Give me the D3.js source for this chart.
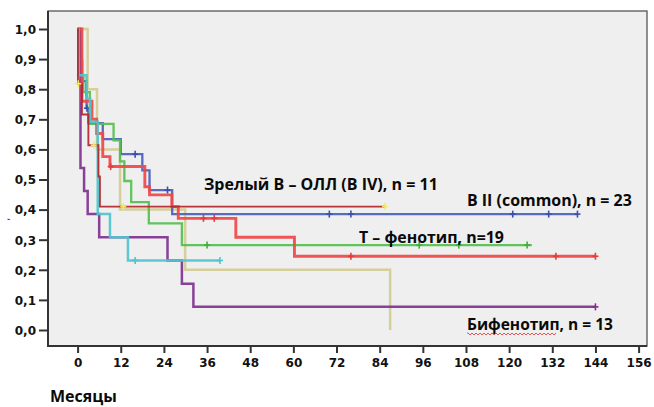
<!DOCTYPE html>
<html><head><meta charset="utf-8">
<script src="https://cdn.jsdelivr.net/npm/d3@7"></script>
<style>
html,body{margin:0;padding:0;background:#fff;}
svg{display:block;}
</style></head>
<body>
<script>
// ---- data ----
const xTicks = [0,12,24,36,48,60,72,84,96,108,120,132,144,156];
const yTicks = [0,0.1,0.2,0.3,0.4,0.5,0.6,0.7,0.8,0.9,1.0];

// Kaplan-Meier steps: event times (months) and survival after each step
const tanT  = [0, 2.8, 5.4, 11.8, 29.9, 86.9];
const tanS  = [1, 0.8, 0.6, 0.4, 0.2, 0.0];
const tanEnd = 86.9;
const tanCens = [];

const blueT = [0, 0.5, 0.8, 1.0, 1.1, 2.4, 2.5, 3.0, 7.0, 12.0, 18.0, 20.0, 26.3];
const blueS = [1, 0.957, 0.913, 0.870, 0.827, 0.780, 0.737, 0.687, 0.634, 0.584, 0.530, 0.465, 0.385];
const blueEnd = 139;
const blueCens = [1.2, 2.6, 16, 25, 70, 76, 121, 131, 139];

const greenT = [0, 0.5, 1.0, 1.3, 1.6, 3.4, 10.0, 11.8, 13.0, 14.9, 19.8, 29.0];
const greenS = [1, 0.947, 0.895, 0.842, 0.790, 0.685, 0.630, 0.560, 0.495, 0.425, 0.354, 0.282];
const greenEnd = 126.3;
const greenCens = [36, 95, 106, 125];

const purpleT = [0, 0.8, 1.8, 2.8, 6.0, 25.0, 29.0, 32.2];
const purpleS = [1, 0.538, 0.4615, 0.385, 0.308, 0.231, 0.154, 0.077];
const purpleEnd = 144;
const purpleCens = [144];

const redT = [0, 1.2, 4.0, 5.3, 7.0, 9.0, 18.7, 20.0, 26.2, 28.0, 44.0, 60.3];
const redS = [1, 0.760, 0.700, 0.653, 0.576, 0.543, 0.476, 0.449, 0.410, 0.371, 0.308, 0.245];
const redEnd = 144;
const redCens = [9.2, 35, 38, 76, 133, 144];

const darkT = [0, 0.1, 1.2, 3.0, 5.8, 6.2];
const darkS = [1, 0.818, 0.716, 0.614, 0.510, 0.410];
const darkEnd = 85.5;
const darkCens = [0.2, 4.5, 12.7, 85.5];

const cyanT = [0, 0.3, 2.5, 3.5, 5.6, 9.0, 14.0];
const cyanS = [1, 0.846, 0.769, 0.692, 0.385, 0.308, 0.231];
const cyanEnd = 39.6;
const cyanCens = [16, 39.6];

const labels = ["Зрелый B – ОЛЛ (B IV), n = 11", "B II (common), n = 23", "T – фенотип, n=19", "Бифенотип, n = 13"];
const xTitle = "Месяцы";

// ---- layout ----
const W = 654, H = 407;
const frame = {x0: 48, y0: 11, x1: 647, y1: 346};
const svg = d3.select("body").append("svg").attr("width", W).attr("height", H);

const x = d3.scaleLinear().domain([0, 156]).range([77.6, 638.6]);
const y = d3.scaleLinear().domain([0, 1]).range([330, 29]);

svg.append("rect").attr("x", frame.x0).attr("y", frame.y0)
  .attr("width", frame.x1 - frame.x0).attr("height", frame.y1 - frame.y0)
  .attr("fill", "#efefef").attr("stroke", "#555").attr("stroke-width", 1.3);
svg.append("path").attr("d", `M${frame.x0},${frame.y0}V${frame.y1}H${frame.x1}`)
  .attr("fill", "none").attr("stroke", "#333").attr("stroke-width", 2);

const fmt = d => d.toFixed(1).replace(".", ",");
const yAxis = svg.append("g").attr("transform", `translate(${frame.x0},0)`)
  .call(d3.axisLeft(y).tickValues(yTicks).tickFormat(fmt).tickSize(9).tickPadding(3));
const xAxis = svg.append("g").attr("transform", `translate(0,${frame.y1})`)
  .call(d3.axisBottom(x).tickValues(xTicks).tickFormat(d3.format("d")).tickSize(7).tickPadding(3));
[yAxis, xAxis].forEach(g => {
  g.select(".domain").remove();
  g.selectAll("line").attr("stroke", "#333").attr("stroke-width", 2);
  g.selectAll("text").attr("fill", "#111")
    .style("font-family", "DejaVu Sans").style("font-weight", "bold").style("font-size", "12px");
});
xAxis.selectAll("text").attr("dy", "0.9em");
yAxis.selectAll("text").attr("dy", "0.36em");

// ---- curves ----
const series = [
  {t: tanT, s: tanS, end: tanEnd, c: tanCens, col: "#d3cc95", w: 2.5, cc: "#d3cc95"},
  {t: blueT, s: blueS, end: blueEnd, c: blueCens, col: "#4a5fbd", w: 2.3, cc: "#3a4fae"},
  {t: greenT, s: greenS, end: greenEnd, c: greenCens, col: "#55bf4e", w: 2.3, cc: "#43ad3e"},
  {t: purpleT, s: purpleS, end: purpleEnd, c: purpleCens, col: "#80318f", w: 2.5, cc: "#80318f"},
  {t: redT, s: redS, end: redEnd, c: redCens, col: "#f04848", w: 2.9, cc: "#e83c3c"},
  {t: cyanT, s: cyanS, end: cyanEnd, c: cyanCens, col: "#4fc6cf", w: 2.5, cc: "#4fc6cf"},
  {t: darkT, s: darkS, end: darkEnd, c: darkCens, col: "#b3262b", w: 1.9, cc: "#f2ec5a"}
];

const line = d3.line().x(d => x(d[0])).y(d => y(d[1])).curve(d3.curveStepAfter);
const survAt = (sr, m) => { let v = sr.s[0]; sr.t.forEach((tt, i) => { if (tt <= m) v = sr.s[i]; }); return v; };

series.forEach(sr => {
  const pts = sr.t.map((tt, i) => [tt, sr.s[i]]);
  pts.push([sr.end, sr.s[sr.s.length - 1]]);
  svg.append("path").attr("d", line(pts)).attr("fill", "none")
    .attr("stroke", sr.col).attr("stroke-width", sr.w).attr("stroke-opacity", 0.92);
  const g = svg.append("g");
  sr.c.forEach(m => {
    const cx = x(m), cy = y(survAt(sr, m));
    g.append("line").attr("x1", cx).attr("x2", cx).attr("y1", cy - 3.5).attr("y2", cy + 3.5)
      .attr("stroke", sr.cc).attr("stroke-width", 1.6);
    g.append("line").attr("x1", cx - 3).attr("x2", cx + 3).attr("y1", cy).attr("y2", cy)
      .attr("stroke", sr.cc).attr("stroke-width", 1.6);
  });
});

// ---- labels ----
function fitText(sel, width) {
  const w0 = sel.node().getComputedTextLength();
  const fs = parseFloat(sel.style("font-size"));
  sel.style("font-size", (fs * width / w0).toFixed(2) + "px");
}
const labelPos = [[204, 190, 234], [467, 206, 165], [359, 243, 145], [467, 330, 146]];
labels.forEach((txt, i) => {
  const t = svg.append("text").attr("x", labelPos[i][0]).attr("y", labelPos[i][1])
    .text(txt).attr("fill", "#0a0a0a")
    .style("font-family", "Open Sans").style("font-weight", "bold").style("font-size", "15px");
  fitText(t, labelPos[i][2]);
});
// spell-check squiggle under "Бифенотип"
let sq = "M467,333";
for (let xx = 467; xx < 556; xx += 2) sq += `L${xx + 1},${xx % 4 === 1 ? 335 : 333}`;
svg.append("path").attr("d", sq).attr("fill", "none").attr("stroke", "#e23030").attr("stroke-width", 0.8);

const xt = svg.append("text").attr("x", 50).attr("y", 402).text(xTitle).attr("fill", "#0a0a0a")
  .style("font-family", "Open Sans").style("font-weight", "bold").style("font-size", "14px");
fitText(xt, 67);

svg.append("text").attr("transform", "translate(9,221) rotate(-90)").text(",")
  .attr("fill", "#333").style("font-family", "DejaVu Sans").style("font-size", "10px");
</script>
</body></html>
